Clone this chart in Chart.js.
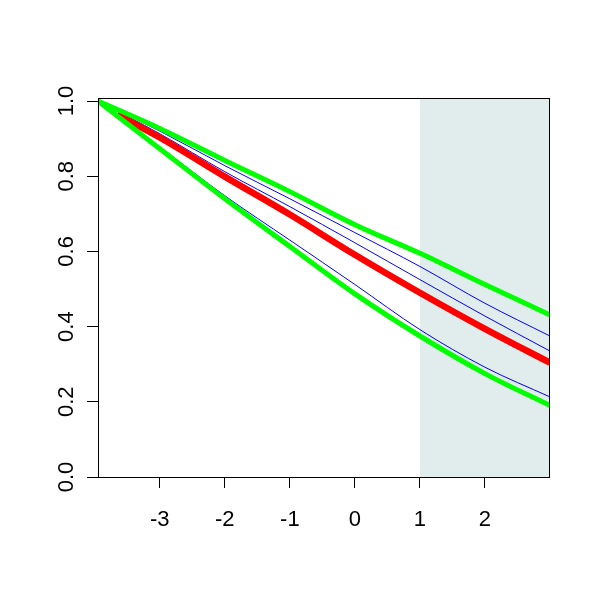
<!DOCTYPE html>
<html>
<head>
<meta charset="utf-8">
<script src="https://cdn.jsdelivr.net/npm/chart.js@4/dist/chart.umd.min.js"></script>
<style>
  html, body { margin: 0; padding: 0; background: #fff; }
  #wrap { width: 600px; height: 600px; }
</style>
</head>
<body>
<div id="wrap"><canvas id="c" width="600" height="600"></canvas></div>
<script>
// values
var xs = [-3.95, -3, -2, -1, 0, 1, 2, 3];
var redXs = [-3.66, -3, -2, -1, 0, 1, 2, 3];
var greenUpper = [1.0, 0.927, 0.842, 0.759, 0.671, 0.595, 0.512, 0.431];
var greenLower = [1.0, 0.873, 0.740, 0.613, 0.487, 0.375, 0.275, 0.19];
var blueUpper = [1.0, 0.92, 0.828, 0.740, 0.650, 0.560, 0.462, 0.375];
var blueMid = [1.0, 0.913, 0.812, 0.719, 0.623, 0.525, 0.428, 0.335];
var blueLower = [1.0, 0.878, 0.748, 0.630, 0.512, 0.392, 0.292, 0.213];
var redLine = [0.964, 0.903, 0.799, 0.698, 0.591, 0.490, 0.394, 0.304];
var xTicks = [-3, -2, -1, 0, 1, 2];
var yTicks = [0, 0.2, 0.4, 0.6, 0.8, 1.0];
var shadeFrom = 1;

function pts(xv, yv) {
  return yv.map(function (y, i) { return { x: xv[i], y: y }; });
}

function line(data, color, width) {
  return {
    data: data,
    borderColor: color,
    borderWidth: width,
    pointRadius: 0,
    fill: false,
    cubicInterpolationMode: 'monotone'
  };
}

// light band from x = 1 to the right edge, and the box round the plot
const frame = {
  id: 'frame',
  beforeDatasetsDraw(chart) {
    const ctx = chart.ctx;
    const a = chart.chartArea;
    const x0 = chart.scales.x.getPixelForValue(shadeFrom);
    ctx.save();
    ctx.fillStyle = '#E0EDEC';
    ctx.fillRect(x0, a.top, a.right - x0, a.bottom - a.top);
    ctx.restore();
  },
  afterDatasetsDraw(chart) {
    const ctx = chart.ctx;
    const a = chart.chartArea;
    ctx.save();
    ctx.strokeStyle = '#000';
    ctx.lineWidth = 1;
    ctx.strokeRect(Math.round(a.left) + 0.5, Math.round(a.top) + 0.5,
      Math.round(a.right - a.left), Math.round(a.bottom - a.top));
    ctx.restore();
  }
};

const font = { family: 'Liberation Sans, Arial, sans-serif', size: 22 };

new Chart(document.getElementById('c'), {
  type: 'line',
  data: {
    datasets: [
      line(pts(xs, greenUpper), '#00FF00', 5),
      line(pts(xs, greenLower), '#00FF00', 5),
      line(pts(redXs, redLine), '#FF0000', 6.5),
      line(pts(xs, blueUpper), '#0000FF', 1),
      line(pts(xs, blueMid), '#0000FF', 1),
      line(pts(xs, blueLower), '#0000FF', 1)
    ]
  },
  options: {
    responsive: false,
    animation: false,
    layout: { padding: { left: 0, top: 98, right: 51, bottom: 0 } },
    plugins: { legend: { display: false }, tooltip: { enabled: false } },
    scales: {
      x: {
        type: 'linear',
        min: -3.95,
        max: 2.985,
        afterFit(s) { s.height = 123; },
        afterBuildTicks(s) { s.ticks = xTicks.map(v => ({ value: v })); },
        grid: { drawOnChartArea: false, drawTicks: true, tickLength: 11, color: '#000' },
        border: { display: true, color: '#000' },
        ticks: { color: '#000', font: font, padding: 19, maxRotation: 0, autoSkip: false,
          callback: v => String(v) }
      },
      y: {
        type: 'linear',
        min: 0,
        max: 1.008,
        afterFit(s) { s.width = 98; },
        afterBuildTicks(s) { s.ticks = yTicks.map(v => ({ value: v })); },
        grid: { drawOnChartArea: false, drawTicks: true, tickLength: 11, color: '#000' },
        border: { display: true, color: '#000' },
        ticks: { color: '#000', font: font, padding: 5, minRotation: 90, maxRotation: 90,
          crossAlign: 'center', autoSkip: false,
          callback: v => v.toFixed(1) }
      }
    }
  },
  plugins: [frame]
});
</script>
</body>
</html>
